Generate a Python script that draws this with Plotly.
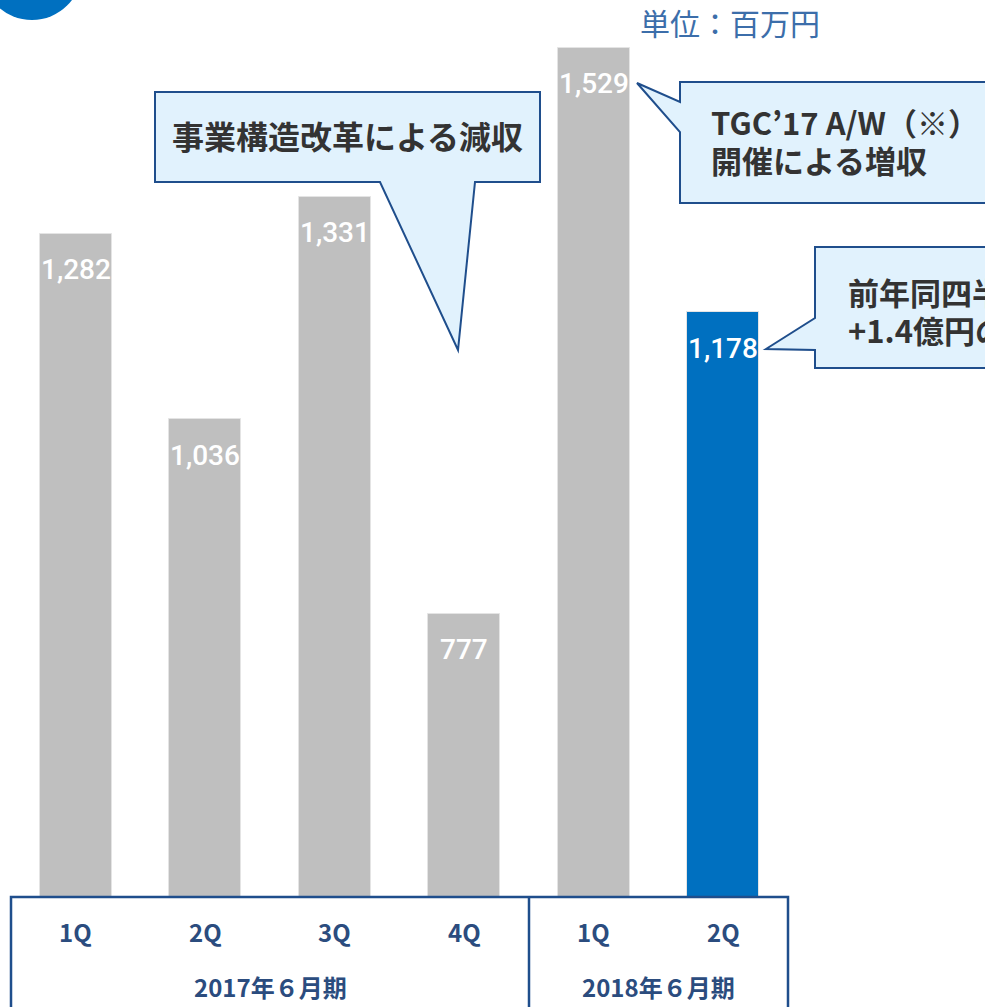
import plotly.graph_objects as go

# ---- data ----
tick_labels = ["1Q", "2Q", "3Q", "4Q", "1Q", "2Q"]
values = [1282, 1036, 1331, 777, 1529, 1178]
value_labels = ["1,282", "1,036", "1,331", "777", "1,529", "1,178"]
bar_colors = ["#BFBFBF", "#BFBFBF", "#BFBFBF", "#BFBFBF", "#BFBFBF", "#0070C0"]
groups = ["2017年６月期", "2018年６月期"]
group_centers = [1.5, 4.5]
unit_label = "単位：百万円"
callout1 = "事業構造改革による減収"
callout2 = ["TGC’17 A/W（※）", "開催による増収"]
callout3 = ["前年同四半期比", "+1.4億円の増収"]

W, H = 985, 1007
# plot area in pixels: x 11..788, y 0..897
ML = 11
MR = W - 788
MT = 0
MB = H - 897
PW, PH = W - ML - MR, H - MT - MB


def xp(px):
    return (px - ML) / PW


def yp(py):
    return (H - MB - py) / PH


def path(points):
    return "M " + " L ".join(f"{xp(x):.5f},{yp(y):.5f}" for x, y in points) + " Z"


CJK = "Noto Sans CJK JP, sans-serif"
NARROW = "Liberation Sans Narrow, Arial Narrow, Noto Sans CJK JP, sans-serif"
BORDER = "#1F4E8C"
FILL = "#E1F2FD"

fig = go.Figure()
fig.add_trace(go.Bar(
    x=list(range(len(values))), y=values,
    marker=dict(color=bar_colors, line=dict(color="#E4E4E4", width=1)),
    width=0.556, hoverinfo="skip",
))

ann = []
for i, (v, t) in enumerate(zip(values, value_labels)):
    ann.append(dict(x=i, y=v, xref="x", yref="y", text=t, showarrow=False,
                    yanchor="middle", yshift=-36,
                    font=dict(family="Roboto, sans-serif", size=28, color="white", weight=500)))
for i, t in enumerate(tick_labels):
    ann.append(dict(x=i, y=yp(931), xref="x", yref="paper", text=f"<b>{t}</b>",
                    showarrow=False, yanchor="middle",
                    font=dict(family=NARROW, size=24, color="#2B4C7E")))
for c, g in zip(group_centers, groups):
    ann.append(dict(x=c, y=yp(987), xref="x", yref="paper", text=f"<b>{g}</b>",
                    showarrow=False, yanchor="middle",
                    font=dict(family=NARROW, size=24, color="#2B4C7E")))

ann.append(dict(x=xp(638), y=yp(22), xref="paper", yref="paper", text=unit_label,
                showarrow=False, xanchor="left", yanchor="middle",
                font=dict(family=CJK, size=30, color="#3C6EAA")))
ann.append(dict(x=xp(347), y=yp(135), xref="paper", yref="paper", text=f"<b>{callout1}</b>",
                showarrow=False, xanchor="center", yanchor="middle",
                font=dict(family=CJK, size=32, color="#333333")))
for line, y in zip(callout2, [122, 160]):
    ann.append(dict(x=xp(709), y=yp(y), xref="paper", yref="paper", text=f"<b>{line}</b>",
                    showarrow=False, xanchor="left", yanchor="middle",
                    font=dict(family=CJK, size=31, color="#333333")))
for line, y in zip(callout3, [291, 329]):
    ann.append(dict(x=xp(846), y=yp(y), xref="paper", yref="paper", text=f"<b>{line}</b>",
                    showarrow=False, xanchor="left", yanchor="middle",
                    font=dict(family=CJK, size=31, color="#333333")))

shapes = []
# blue circle top-left
shapes.append(dict(type="circle", xref="paper", yref="paper",
                   x0=xp(32 - 50), x1=xp(32 + 50), y0=yp(-30 + 50), y1=yp(-30 - 50),
                   fillcolor="#0070C0", line=dict(width=0), layer="above"))
# callouts
shapes.append(dict(type="path", xref="paper", yref="paper",
                   path=path([(155, 92), (540, 92), (540, 182), (475, 182), (458, 350), (380, 182), (155, 182)]),
                   fillcolor=FILL, line=dict(color=BORDER, width=2), layer="above"))
shapes.append(dict(type="path", xref="paper", yref="paper",
                   path=path([(680, 82), (1010, 82), (1010, 203), (680, 203), (680, 132), (637, 83), (680, 102)]),
                   fillcolor=FILL, line=dict(color=BORDER, width=2), layer="above"))
shapes.append(dict(type="path", xref="paper", yref="paper",
                   path=path([(815, 247), (1010, 247), (1010, 368), (815, 368), (815, 350), (766, 349), (815, 318)]),
                   fillcolor=FILL, line=dict(color=BORDER, width=2), layer="above"))
# category table
shapes.append(dict(type="rect", xref="paper", yref="paper",
                   x0=xp(11), x1=xp(788), y0=yp(1030), y1=yp(897),
                   line=dict(color=BORDER, width=2.5), fillcolor="rgba(0,0,0,0)", layer="above"))
shapes.append(dict(type="line", xref="x", yref="paper",
                   x0=3.5, x1=3.5, y0=yp(1030), y1=yp(897),
                   line=dict(color=BORDER, width=2.5), layer="above"))

# y range: bottom of plot (y 897 px) = 401, scale 0.7527 px per unit
YMIN = 401
YMAX = YMIN + PH / 0.7527

fig.update_layout(
    width=W, height=H,
    margin=dict(l=ML, r=MR, t=MT, b=MB, autoexpand=False),
    paper_bgcolor="white", plot_bgcolor="white",
    showlegend=False, bargap=0,
    xaxis=dict(range=[-0.5, 5.5], showticklabels=False, showgrid=False, zeroline=False,
               showline=False, ticks=""),
    yaxis=dict(range=[YMIN, YMAX], showticklabels=False, showgrid=False, zeroline=False,
               showline=False, ticks=""),
    annotations=ann, shapes=shapes,
)

fig.write_html("out.html",
               config={"displayModeBar": False},
               post_script="document.body.style.margin='0';document.body.style.overflow='hidden';")
